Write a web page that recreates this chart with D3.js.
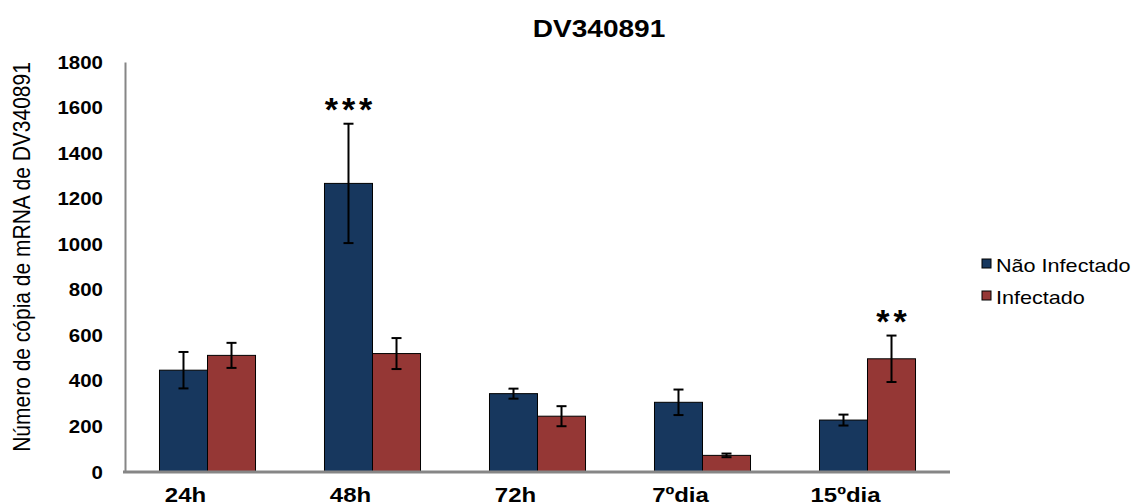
<!DOCTYPE html>
<html>
<head>
<meta charset="utf-8">
<script src="https://cdn.jsdelivr.net/npm/d3@7/dist/d3.min.js"></script>
<style>
  html, body { margin: 0; padding: 0; background: #fff; }
  svg { display: block; font-family: "Liberation Sans", Arial, sans-serif; }
</style>
</head>
<body>
<svg id="chart" width="1136" height="504"></svg>
<script>
// ---- data ----
const categories = ["24h", "48h", "72h", "7ºdia", "15ºdia"];
const seriesNames = ["Não Infectado", "Infectado"];
const naoInfectado = [447, 1267, 344, 306, 228];
const naoInfectadoErr = [80, 262, 22, 56, 24];
const infectado = [512, 520, 245, 73, 497];
const infectadoErr = [55, 68, 44, 8, 102];
const significance = [
  { category: "48h", series: "Não Infectado", label: "***" },
  { category: "15ºdia", series: "Infectado", label: "**" }
];
const yTicks = [0, 200, 400, 600, 800, 1000, 1200, 1400, 1600, 1800];
const title = "DV340891";
const yTitle = "Número de cópia de mRNA de DV340891";

const colors = { "Não Infectado": "#17375E", "Infectado": "#953735" };
const seriesData = {
  "Não Infectado": { values: naoInfectado, errs: naoInfectadoErr },
  "Infectado": { values: infectado, errs: infectadoErr }
};

const svg = d3.select("#chart");
const stretch = 1.17;

const x = d3.scaleBand().domain(categories).range([125, 950])
  .paddingInner(0.418).paddingOuter(0.209);
const xs = d3.scaleBand().domain(seriesNames).range([0, x.bandwidth()]).padding(0);
const y = d3.scaleLinear().domain([0, 1800]).range([472, 62]);

// y axis
const yAxis = svg.append("g").attr("transform", "translate(125,0)")
  .call(d3.axisLeft(y).tickValues(yTicks).tickFormat(d3.format("d")).tickSize(0).tickPadding(0));
yAxis.select(".domain").attr("stroke", "#868686").attr("stroke-width", 2);
yAxis.selectAll(".tick text")
  .attr("x", 0).attr("dy", null)
  .attr("transform", "translate(-22,6) scale(" + stretch + ",1)")
  .attr("font-size", 17.5).attr("font-weight", "bold").attr("fill", "#000")
  .attr("font-family", "Liberation Sans, Arial, sans-serif");

// bars
const groups = svg.append("g").selectAll("g").data(categories).join("g")
  .attr("transform", d => `translate(${x(d)},0)`);

seriesNames.forEach(s => {
  const sd = seriesData[s];
  groups.append("rect")
    .attr("x", xs(s))
    .attr("y", (d, i) => y(sd.values[i]))
    .attr("width", xs.bandwidth())
    .attr("height", (d, i) => y(0) - y(sd.values[i]))
    .attr("fill", colors[s])
    .attr("stroke", "#000").attr("stroke-width", 1);
});

// error bars
seriesNames.forEach(s => {
  const sd = seriesData[s];
  const cx = xs(s) + xs.bandwidth() / 2;
  const eb = groups.append("g").attr("stroke", "#000").attr("stroke-width", 2);
  eb.append("line").attr("x1", cx).attr("x2", cx)
    .attr("y1", (d, i) => y(sd.values[i] + sd.errs[i]))
    .attr("y2", (d, i) => y(sd.values[i] - sd.errs[i]));
  eb.append("line").attr("x1", cx - 5).attr("x2", cx + 5)
    .attr("y1", (d, i) => y(sd.values[i] + sd.errs[i]))
    .attr("y2", (d, i) => y(sd.values[i] + sd.errs[i]));
  eb.append("line").attr("x1", cx - 5).attr("x2", cx + 5)
    .attr("y1", (d, i) => y(sd.values[i] - sd.errs[i]))
    .attr("y2", (d, i) => y(sd.values[i] - sd.errs[i]));
});

// x axis baseline
svg.append("line").attr("x1", 123).attr("x2", 950)
  .attr("y1", y(0)).attr("y2", y(0))
  .attr("stroke", "#868686").attr("stroke-width", 3);

// x labels (centred slightly left of the bar group, as in the reference)
svg.append("g").selectAll("text").data(categories).join("text")
  .attr("transform", d => `translate(${x(d) + x.bandwidth() / 2 - 22},502) scale(${stretch},1)`)
  .attr("text-anchor", "middle")
  .attr("font-size", 20.5).attr("font-weight", "bold")
  .text(d => d);

// significance marks
const ls = 4;
svg.append("g").selectAll("text").data(significance).join("text")
  .attr("transform", d => {
    const i = categories.indexOf(d.category);
    const sd = seriesData[d.series];
    const cx = x(d.category) + xs(d.series) + xs.bandwidth() / 2;
    return `translate(${cx + ls / 2},${y(sd.values[i] + sd.errs[i]) - 3})`;
  })
  .attr("text-anchor", "middle")
  .attr("letter-spacing", ls)
  .attr("font-size", 34).attr("font-weight", "bold")
  .text(d => d.label);

// title
svg.append("text")
  .attr("transform", `translate(599,37) scale(${stretch},1)`)
  .attr("text-anchor", "middle")
  .attr("font-size", 24).attr("font-weight", "bold")
  .text(title);

// y title
svg.append("text")
  .attr("transform", `translate(30,257) scale(${stretch},1) rotate(-90)`)
  .attr("text-anchor", "middle")
  .attr("font-size", 21)
  .text(yTitle);

// legend
const legend = svg.append("g");
seriesNames.forEach((s, i) => {
  legend.append("rect").attr("x", 982).attr("y", 259 + i * 32)
    .attr("width", 9).attr("height", 9)
    .attr("fill", colors[s]).attr("stroke", "#000").attr("stroke-width", 1);
  legend.append("text")
    .attr("transform", `translate(996,${272 + i * 32}) scale(1.2,1)`)
    .attr("font-size", 18)
    .text(s);
});
</script>
</body>
</html>
